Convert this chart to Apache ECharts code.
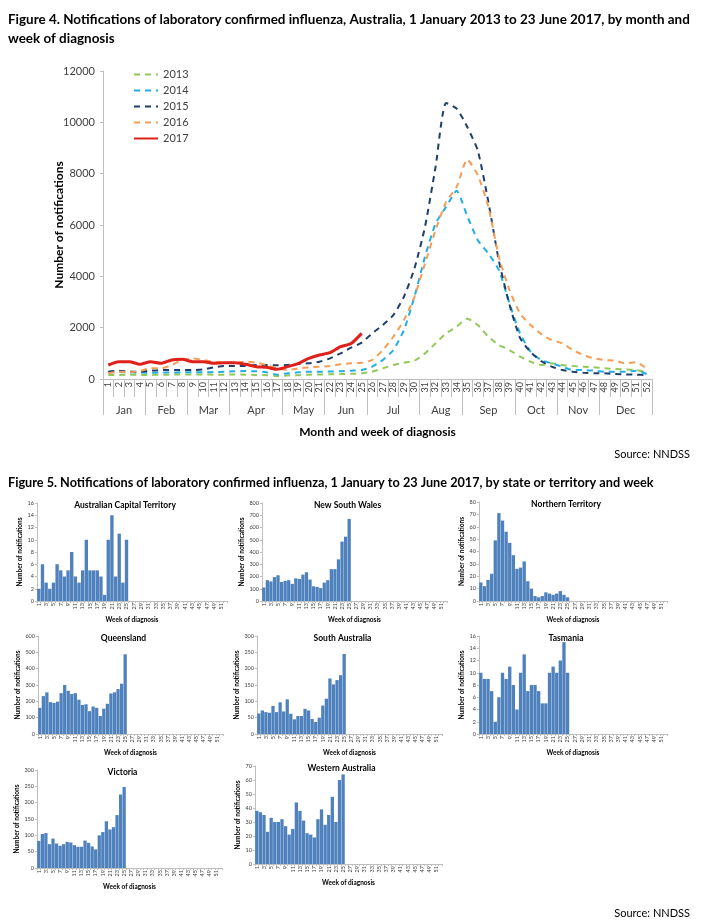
<!DOCTYPE html>
<html>
<head>
<meta charset="utf-8">
<script src="https://cdn.jsdelivr.net/npm/echarts@6/dist/echarts.min.js"></script>
<style>
body{margin:0;background:#fff}
#main{width:701px;height:920px}
</style>
</head>
<body>
<div id="main"></div>
<script>
// week categories and month grouping
var weeks = [1,2,3,4,5,6,7,8,9,10,11,12,13,14,15,16,17,18,19,20,21,22,23,24,25,26,
             27,28,29,30,31,32,33,34,35,36,37,38,39,40,41,42,43,44,45,46,47,48,49,50,51,52];
var months = ['Jan','Feb','Mar','Apr','May','Jun','Jul','Aug','Sep','Oct','Nov','Dec'];
var monthWeeks = [4,4,4,5,4,4,5,4,5,4,4,5];

// Figure 4: national weekly notifications
var y2013 = [155,160,165,160,160,165,170,175,175,175,170,170,175,165,160,150,110,140,150,170,175,185,190,200,220,
             285,415,545,636,714,999,1389,1778,2038,2348,2102,1648,1323,1129,869,675,545,610,545,506,480,454,415,389,376,350,285];
var y2014 = [260,270,260,250,245,250,255,260,260,265,270,280,300,310,300,260,170,220,260,285,285,290,300,324,350,
             480,740,1129,1907,3204,4762,6058,6707,7330,6344,5410,4891,4242,2945,1777,1064,740,610,480,350,350,324,285,285,285,324,195];
var y2015 = [285,324,285,285,324,350,350,350,350,376,454,506,506,506,545,545,532,545,584,610,675,804,999,1220,1415,
             1778,2102,2490,3204,4307,5929,8264,10756,10535,9821,8900,6900,4600,2900,1600,1050,700,480,350,285,246,220,220,195,180,170,155];
var y2016 = [220,285,260,311,415,415,545,740,804,740,675,636,636,675,636,545,415,350,415,454,480,506,571,610,636,
             740,1129,1648,2296,3204,4502,5799,6902,7486,8550,7940,6707,4762,3464,2556,2102,1750,1518,1388,1129,934,804,740,714,610,650,415];
var y2017 = [545,675,675,571,675,610,740,765,675,675,610,636,636,571,480,454,376,480,610,804,934,1025,1259,1380,1778];

// Figure 5: state / territory weekly notifications 2017
var act = [2,6,3,2,3,6,5,4,5,8,4,3,5,10,5,5,5,4,1,10,14,4,11,3,10];
var nsw = [110,170,160,195,210,155,165,170,140,185,180,215,235,175,120,115,105,150,170,260,260,340,485,525,670];
var nt  = [15,12,17,22,49,71,65,56,47,37,26,27,32,16,10,4,3,4,7,6,5,6,8,5,3];
var qld = [160,232,255,195,190,198,250,300,265,245,250,210,178,182,140,168,160,110,155,185,248,255,275,308,488];
var sa  = [63,72,67,65,86,67,97,69,106,62,45,55,55,77,72,46,37,50,87,108,170,152,165,180,245];
var tas = [10,9,9,7,2,6,10,9,11,8,4,10,13,7,8,8,7,5,5,10,11,10,12,15,10];
var vic = [83,104,107,73,90,75,68,73,80,78,70,65,65,84,77,66,57,100,110,143,118,125,162,225,248];
var wa  = [38,37,35,23,33,30,30,32,27,21,25,44,38,31,22,21,19,32,39,28,35,48,30,60,64];

var FONT = 'Lato, "Liberation Sans", sans-serif';
var AXIS = '#bfbfbf';

// month boundaries / centres on a 0.5..52.5 value scale
var bounds = [0.5], centres = [];
monthWeeks.forEach(function (n, i) {
  centres.push(bounds[i] + n / 2);
  bounds.push(bounds[i] + n);
});

var chart = echarts.init(document.getElementById('main'));

var option = {
  backgroundColor: '#fff',
  textStyle: {fontFamily: FONT},
  title: [
    {left: 3, top: 5, text: 'Figure 4. Notifications of laboratory confirmed influenza, Australia, 1 January 2013 to 23 June 2017, by month and\nweek of diagnosis',
     textStyle: {fontSize: 13.45, fontWeight: 'bold', color: '#000', lineHeight: 19, fontFamily: FONT}},
    {right: 6, top: 444, text: 'Source: NNDSS', textStyle: {fontSize: 11, fontWeight: 'normal', color: '#000', fontFamily: FONT}},
    {left: 3, top: 471, text: 'Figure 5. Notifications of laboratory confirmed influenza, 1 January to 23 June 2017, by state or territory and week',
     textStyle: {fontSize: 12.7, fontWeight: 'bold', color: '#000', fontFamily: FONT}},
    {right: 6, top: 903, text: 'Source: NNDSS', textStyle: {fontSize: 11, fontWeight: 'normal', color: '#000', fontFamily: FONT}}
  ],
  legend: {
    orient: 'vertical', left: 128, top: 64, itemWidth: 24, itemHeight: 12, itemGap: 5,
    itemStyle: {opacity: 0},
    data: ['2013','2014','2015','2016','2017'],
    textStyle: {fontSize: 11, color: '#404040', fontFamily: FONT}
  },
  grid: [{left: 103, top: 71, width: 549, height: 308}],
  xAxis: [
    {type: 'category', gridIndex: 0, data: weeks, boundaryGap: true,
     axisLine: {lineStyle: {color: AXIS}},
     axisTick: {show: true, interval: 0, length: 18, lineStyle: {color: AXIS}},
     axisLabel: {interval: 0, rotate: 90, fontSize: 9, color: '#404040', margin: 3}},
    {type: 'value', gridIndex: 0, min: 0.5, max: 52.5, position: 'bottom',
     name: 'Month and week of diagnosis', nameLocation: 'middle', nameGap: 47,
     nameTextStyle: {fontSize: 12, fontWeight: 'bold', color: '#000'},
     axisLine: {show: false}, splitLine: {show: false},
     axisTick: {show: true, customValues: bounds, length: 36, lineStyle: {color: AXIS}},
     axisLabel: {customValues: centres, margin: 26, fontSize: 11, color: '#404040',
       formatter: function (v) {
         var best = 0;
         centres.forEach(function (c, i) { if (Math.abs(c - v) < Math.abs(centres[best] - v)) best = i; });
         return months[best];
       }}}
  ],
  yAxis: [
    {type: 'value', gridIndex: 0, min: 0, max: 12000, interval: 2000,
     name: 'Number of notifications', nameLocation: 'middle', nameGap: 38, nameMoveOverlap: false,
     nameTextStyle: {fontSize: 12, fontWeight: 'bold', color: '#000'},
     axisLine: {show: true, lineStyle: {color: AXIS}},
     axisTick: {show: true, length: 3, lineStyle: {color: AXIS}},
     splitLine: {show: false},
     axisLabel: {fontSize: 11, color: '#404040', margin: 8, formatter: function (v) { return String(v); }}}
  ],
  series: []
};

var lines = [
  {name: '2013', data: y2013, color: '#92C856', dash: true},
  {name: '2014', data: y2014, color: '#21AEE6', dash: true},
  {name: '2015', data: y2015, color: '#1F3F6A', dash: true},
  {name: '2016', data: y2016, color: '#F59C55', dash: true},
  {name: '2017', data: y2017, color: '#E0201B', dash: false}
];
lines.forEach(function (l) {
  option.series.push({
    name: l.name, type: 'line', xAxisIndex: 0, yAxisIndex: 0, data: l.data,
    symbol: 'none', smooth: 0.2, z: l.dash ? 2 : 3,
    itemStyle: {color: l.color},
    lineStyle: {color: l.color, width: l.dash ? 2 : 3, type: l.dash ? [6, 5] : 'solid'}
  });
});

// small multiples
var panels = [
  {name: 'Australian Capital Territory', data: act, max: 16,  step: 2,   box: [37, 503, 190, 98]},
  {name: 'New South Wales',              data: nsw, max: 800, step: 100, box: [262, 503, 185, 98]},
  {name: 'Northern Territory',           data: nt,  max: 80,  step: 10,  box: [479, 502, 188, 99]},
  {name: 'Queensland',                   data: qld, max: 600, step: 100, box: [38, 636, 185, 98]},
  {name: 'South Australia',              data: sa,  max: 300, step: 50,  box: [257, 636, 185, 98]},
  {name: 'Tasmania',                     data: tas, max: 16,  step: 2,   box: [479, 636, 188, 98]},
  {name: 'Victoria',                     data: vic, max: 300, step: 50,  box: [37, 770, 185, 98]},
  {name: 'Western Australia',            data: wa,  max: 70,  step: 10,  box: [255, 766, 187, 98]}
];

panels.forEach(function (p, i) {
  var g = i + 1, b = p.box;
  option.grid.push({left: b[0], top: b[1], width: b[2], height: b[3]});
  option.title.push({text: p.name, left: b[0] + b[2] / 2 - 12, top: b[1] - 7, textAlign: 'center',
    textStyle: {fontSize: 8.5, fontWeight: 'bold', color: '#000', fontFamily: FONT}});
  option.xAxis.push({type: 'category', gridIndex: g, data: weeks, boundaryGap: true,
    name: 'Week of diagnosis', nameLocation: 'middle', nameGap: 15,
    nameTextStyle: {fontSize: 6.5, fontWeight: 'bold', color: '#000'},
    axisLine: {lineStyle: {color: AXIS}},
    axisTick: {show: true, interval: 0, length: 2, lineStyle: {color: AXIS}},
    axisLabel: {interval: 1, rotate: 90, fontSize: 5.5, color: '#404040', margin: 2}});
  option.yAxis.push({type: 'value', gridIndex: g, min: 0, max: p.max, interval: p.step,
    name: 'Number of notifications', nameLocation: 'middle', nameGap: 12,
    nameTextStyle: {fontSize: 6.5, fontWeight: 'bold', color: '#000'},
    axisLine: {show: true, lineStyle: {color: AXIS}},
    axisTick: {show: true, length: 2, lineStyle: {color: AXIS}},
    splitLine: {show: false},
    axisLabel: {fontSize: 5.5, color: '#404040', margin: 3}});
  // xAxis 0 and 1 both belong to the top grid, so panel axes start at index 2
  option.series.push({type: 'bar', xAxisIndex: i + 2, yAxisIndex: g, data: p.data,
    barCategoryGap: '8%', itemStyle: {color: '#4F81BD'}});
});

chart.setOption(option);
</script>
</body>
</html>
